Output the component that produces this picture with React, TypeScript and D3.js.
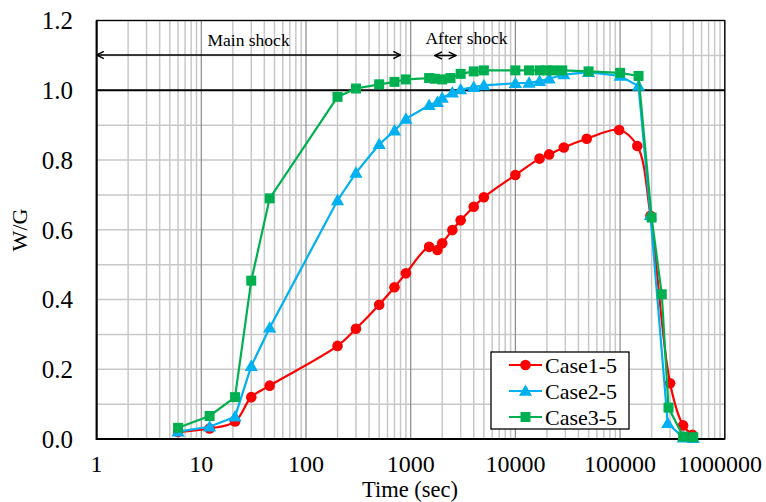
import React from 'react';
import * as d3 from 'd3';

// time (sec) and W/G
const case1T = [6, 12, 21, 30, 45, 200, 300, 500, 700, 900, 1500, 1800, 2000, 2500, 3000, 4000, 5000, 10000, 17000, 21000, 29000, 48000, 98000, 146000, 195000, 300000, 400000, 490000];
const case1V = [0.02, 0.03, 0.05, 0.12, 0.153, 0.267, 0.316, 0.385, 0.435, 0.475, 0.551, 0.542, 0.561, 0.599, 0.627, 0.666, 0.693, 0.757, 0.804, 0.816, 0.836, 0.861, 0.886, 0.84, 0.64, 0.16, 0.039, 0.012];

const case2T = [6, 12, 21, 30, 45, 200, 300, 500, 700, 900, 1500, 1800, 2000, 2500, 3000, 4000, 5000, 10000, 13500, 17000, 21000, 29000, 50000, 100000, 150000, 195000, 285000, 400000, 500000];
const case2V = [0.021, 0.035, 0.064, 0.209, 0.319, 0.684, 0.763, 0.845, 0.884, 0.918, 0.957, 0.966, 0.978, 0.993, 1.002, 1.009, 1.014, 1.02, 1.021, 1.026, 1.033, 1.045, 1.052, 1.041, 1.012, 0.642, 0.045, 0.004, 0.002];

const case3T = [6, 12, 21, 30, 45, 200, 300, 500, 700, 900, 1500, 1700, 2000, 2400, 3000, 4000, 5000, 10000, 13500, 17000, 20000, 23000, 28000, 50000, 100000, 150000, 200000, 250000, 290000, 400000, 500000];
const case3V = [0.032, 0.066, 0.12, 0.454, 0.69, 0.981, 1.005, 1.017, 1.024, 1.031, 1.035, 1.033, 1.031, 1.035, 1.047, 1.054, 1.057, 1.057, 1.057, 1.057, 1.057, 1.057, 1.057, 1.054, 1.05, 1.041, 0.635, 0.415, 0.09, 0.007, 0.005];

const seriesNames = ['Case1-5', 'Case2-5', 'Case3-5'];
const xTickLabels = ['1', '10', '100', '1000', '10000', '100000', '1000000'];
const yTickValues = [0, 0.2, 0.4, 0.6, 0.8, 1.0, 1.2];
const mainShock = [1, 800];
const afterShock = [1700, 2700];

const W = 766, H = 502;
const font = 'Liberation Serif, DejaVu Serif, serif';

export default function App() {
  const x = d3.scaleLog().domain([1, 1e6]).range([96.6, 724.8]);
  const y = d3.scaleLinear().domain([0, 1.2]).range([439, 20.5]);

  const series = [
    { name: seriesNames[0], t: case1T, v: case1V, color: '#FF0000', shape: 'circle', curve: d3.curveCatmullRom.alpha(0.5) },
    { name: seriesNames[1], t: case2T, v: case2V, color: '#00B0F0', shape: 'triangle', curve: d3.curveLinear },
    { name: seriesNames[2], t: case3T, v: case3V, color: '#00B050', shape: 'square', curve: d3.curveLinear },
  ];

  const gridX = x.ticks();
  const gridY = d3.range(0, 1.2001, 0.1);

  const marker = (shape: string, cx: number, cy: number, color: string, key?: any) => {
    if (shape === 'circle') return <circle key={key} cx={cx} cy={cy} r={5.3} fill={color} />;
    if (shape === 'square') return <rect key={key} x={cx - 5} y={cy - 5} width={10} height={10} fill={color} />;
    const p = d3.symbol(d3.symbolTriangle, 75)();
    return <path key={key} d={p || ''} transform={`translate(${cx},${cy + 1})`} fill={color} />;
  };

  const [x0, x1] = x.range();
  const [yb, yt] = y.range();

  return (
    <svg width={W} height={H} style={{ position: 'absolute', left: 0, top: 0, background: '#fff', fontFamily: font }}>
      <defs>
        <marker id="arr" viewBox="0 0 10 10" refX="9" refY="5" markerWidth="9" markerHeight="9" orient="auto-start-reverse" markerUnits="userSpaceOnUse">
          <polyline points="1,1 9,5 1,9" fill="none" stroke="#000" strokeWidth={1.6} />
        </marker>
      </defs>
      {/* grid */}
      {gridY.map((g, i) => (
        <line key={'gy' + i} x1={x0} x2={x1} y1={y(g)} y2={y(g)} stroke="#c8c8c8" strokeWidth={1.5} />
      ))}
      {gridX.map((g, i) => {
        const major = Math.abs(Math.log10(g) - Math.round(Math.log10(g))) < 1e-9;
        return (
          <line key={'gx' + i} x1={x(g)} x2={x(g)} y1={yt} y2={yb} stroke={major ? '#8a8a8a' : '#c8c8c8'} strokeWidth={major ? 1.2 : 1.5} />
        );
      })}
      {/* frame */}
      <rect x={x0} y={yt} width={x1 - x0} height={yb - yt} fill="none" stroke="#000" strokeWidth={1.3} />
      <line x1={x0} x2={x0} y1={yt} y2={yb + 1} stroke="#000" strokeWidth={2} />
      <line x1={x0} x2={x1} y1={yb} y2={yb} stroke="#000" strokeWidth={2} />
      <line x1={x0} x2={x1} y1={y(1)} y2={y(1)} stroke="#000" strokeWidth={2} />

      {/* series */}
      {series.map(s => {
        const pts: [number, number][] = s.t.map((t, i) => [x(t), y(s.v[i])]);
        const line = d3.line().curve(s.curve)(pts) || '';
        return (
          <g key={s.name}>
            <path d={line} fill="none" stroke={s.color} strokeWidth={2.2} />
            {pts.map((p, i) => marker(s.shape, p[0], p[1], s.color, i))}
          </g>
        );
      })}

      {/* shock arrows */}
      <line x1={x(mainShock[0])} x2={x(mainShock[1])} y1={55} y2={55} stroke="#000" strokeWidth={1.6} markerStart="url(#arr)" markerEnd="url(#arr)" />
      <text x={(x(mainShock[0]) + x(mainShock[1])) / 2} y={46} textAnchor="middle" fontSize={17.5}>Main shock</text>
      <line x1={x(afterShock[0])} x2={x(afterShock[1])} y1={55.5} y2={55.5} stroke="#000" strokeWidth={1.6} markerStart="url(#arr)" markerEnd="url(#arr)" />
      <text x={466.5} y={44} textAnchor="middle" fontSize={17.5}>After shock</text>

      {/* axes labels */}
      {yTickValues.map(v => (
        <text key={'yl' + v} x={73} y={y(v)} dy="0.35em" textAnchor="end" fontSize={25}>{d3.format('.1f')(v)}</text>
      ))}
      {xTickLabels.map(l => (
        <text key={'xl' + l} x={Math.min(x(+l), 720)} y={472} textAnchor="middle" fontSize={24}>{l}</text>
      ))}
      <text x={410} y={497} textAnchor="middle" fontSize={22.5}>Time (sec)</text>
      <text transform={`translate(27,230) rotate(-90)`} textAnchor="middle" fontSize={22}>W/G</text>

      {/* legend */}
      <rect x={491} y={352} width={138} height={77} fill="#fff" stroke="#000" strokeWidth={1.3} />
      {series.map((s, i) => {
        const ly = 365 + i * 26;
        return (
          <g key={'lg' + s.name}>
            <line x1={509} x2={542} y1={ly} y2={ly} stroke={s.color} strokeWidth={2.2} />
            {marker(s.shape, 525.5, ly, s.color)}
            <text x={545} y={ly} dy="0.35em" fontSize={22}>{s.name}</text>
          </g>
        );
      })}
    </svg>
  );
}
